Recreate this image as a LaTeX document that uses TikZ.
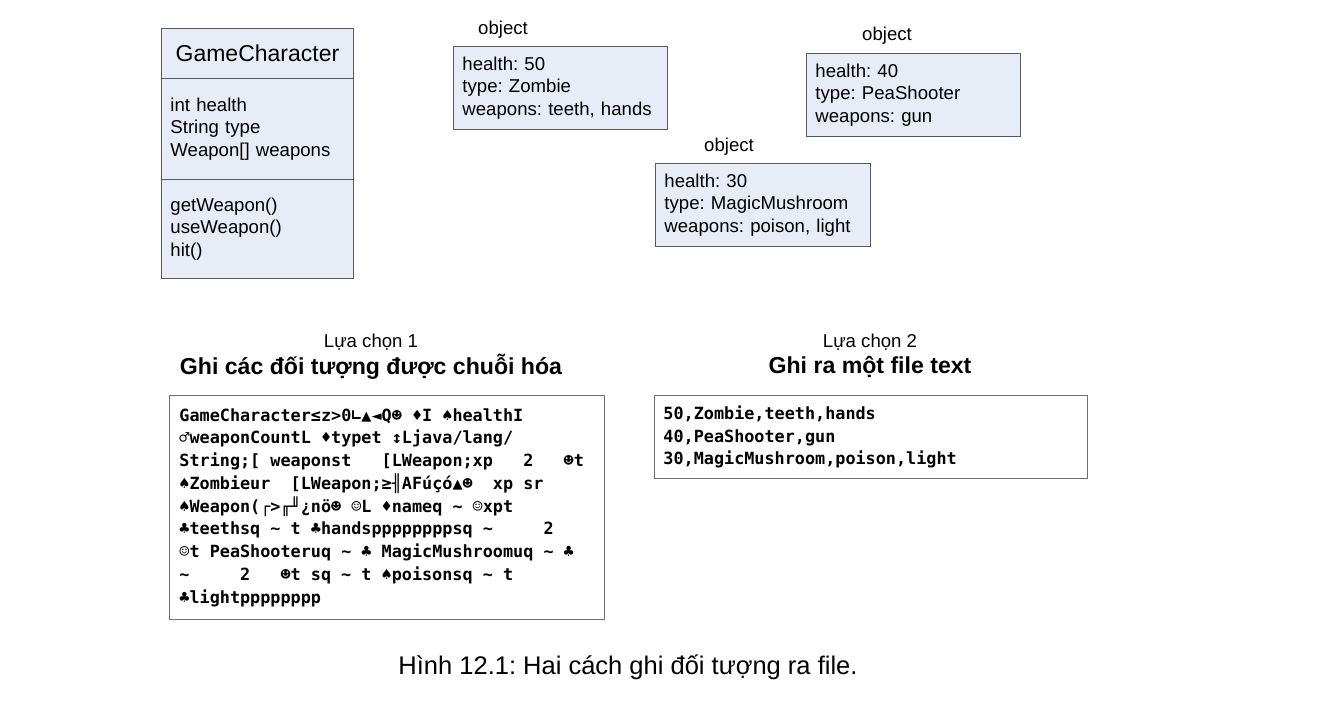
\documentclass[tikz,border=0pt]{standalone}
\usepackage{fontspec}
\setmainfont{Liberation Sans}
\newfontfamily\monofont{DejaVu Sans Mono}
\definecolor{boxfill}{HTML}{E8ECF6}
\definecolor{boxline}{HTML}{595959}
\definecolor{txtline}{HTML}{6E6E6E}
\frenchspacing
\newcommand{\monosetup}{\monofont\bfseries\fontsize{16.8}{22.75}\selectfont}
\newcommand{\monospaces}{\spaceskip=10.11pt\xspaceskip=10.11pt\relax}
\begin{document}
\begin{tikzpicture}[x=1pt,y=-1pt,
  body/.style={font=\fontsize{18.6}{22.5}\selectfont},
  objbox/.style={draw=boxline, fill=boxfill, line width=0.9pt, anchor=north west,
    inner xsep=9pt, inner ysep=0pt, align=left, body},
  umlpart/.style={draw=boxline, fill=boxfill, line width=0.9pt, anchor=north west,
    inner xsep=9pt, inner ysep=0pt, minimum width=192pt, text width=174pt, align=left, body},
  lbl/.style={body, inner sep=0pt},
  mono/.style={font=\monosetup},
  txtbox/.style={draw=txtline, line width=0.9pt, anchor=north west, inner ysep=0pt, align=left},
  heading/.style={inner sep=0pt, font=\bfseries\fontsize{23.1}{26}\selectfont}
]
\useasboundingbox (0,0) rectangle (1330,702);
% UML class
\node[umlpart, minimum height=50pt, align=center, font=\fontsize{23}{27}\selectfont] (gctitle) at (161,28) {GameCharacter};
\node[umlpart, minimum height=101pt] (gcattr) at (161,78) {int health\\String type\\Weapon[] weapons};
\node[umlpart, minimum height=99pt] (gcmeth) at (161,179) {getWeapon()\\useWeapon()\\hit()};
% objects
\node[lbl] (o1lbl) at (503,30) {object};
\node[objbox, minimum width=214pt, minimum height=83pt, text width=196pt] (o1) at (453,46) {health: 50\\type: Zombie\\weapons: teeth, hands};
\node[lbl] (o2lbl) at (887,36) {object};
\node[objbox, minimum width=214pt, minimum height=83pt, text width=196pt] (o2) at (806,53) {health: 40\\type: PeaShooter\\weapons: gun};
\node[lbl] (o3lbl) at (729,147) {object};
\node[objbox, minimum width=215pt, minimum height=83pt, text width=197pt] (o3) at (655,163) {health: 30\\type: MagicMushroom\\weapons: poison, light};
% options
\node[lbl] (c1) at (371,342) {Lựa chọn 1};
\node[heading] (h1) at (371,367) {Ghi các đối tượng được chuỗi hóa};
\node[lbl] (c2) at (870,342) {Lựa chọn 2};
\node[heading] (h2) at (870,367) {Ghi ra một file text};
% serialized box
\node[txtbox, mono, minimum width=435pt, minimum height=224pt, text width=415pt, inner xsep=10pt] (ser) at (169,395) {\monospaces\mbox{GameCharacter≤z>0∟▲◄Q☻ ♦I ♠healthI}\\
\mbox{♂weaponCountL ♦typet ↕Ljava/lang/}\\
\mbox{String;[ weaponst\ \ \ [LWeapon;xp\ \ \ 2\ \ \ ☻t}\\
\mbox{♠Zombieur\ \ [LWeapon;≥╢AFúçó▲☻\ \ xp sr}\\
\mbox{♠Weapon(┌>╓╜¿nö☻ ☺L ♦nameq \textasciitilde{} ☺xpt}\\
\mbox{♣teethsq \textasciitilde{} t ♣handsppppppppsq \textasciitilde{}\ \ \ \ \ 2}\\
\mbox{☺t PeaShooteruq \textasciitilde{} ♣ MagicMushroomuq \textasciitilde{} ♣}\\
\mbox{\textasciitilde{}\ \ \ \ \ 2\ \ \ ☻t sq \textasciitilde{} t ♠poisonsq \textasciitilde{} t}\\
\mbox{♣lightpppppppp}};
% text file box
\node[txtbox, mono, minimum width=433pt, minimum height=83pt, text width=415pt, inner xsep=9pt] (tf) at (654,395) {50,Zombie,teeth,hands\\40,PeaShooter,gun\\30,MagicMushroom,poison,light};
% caption
\node[inner sep=0pt, font=\fontsize{25.5}{29}\selectfont] (cap) at (628,667) {Hình 12.1: Hai cách ghi đối tượng ra file.};
\end{tikzpicture}
\end{document}
